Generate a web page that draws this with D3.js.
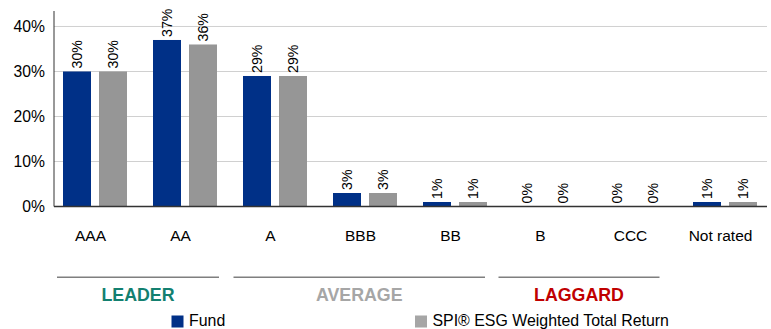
<!DOCTYPE html>
<html>
<head>
<meta charset="utf-8">
<script src="https://cdn.jsdelivr.net/npm/d3@7"></script>
<style>
  html, body { margin: 0; padding: 0; background: #fff; }
  svg { display: block; font-family: "Liberation Sans", Arial, sans-serif; }
</style>
</head>
<body>
<svg id="chart" width="771" height="329"></svg>
<script>
// ESG rating distribution: fund vs. index
const categories = ["AAA", "AA", "A", "BBB", "BB", "B", "CCC", "Not rated"];
const fundValues = [30, 37, 29, 3, 1, 0, 0, 1];
const indexValues = [30, 36, 29, 3, 1, 0, 0, 1];
const seriesNames = ["Fund", "SPI® ESG Weighted Total Return"];
const yTicks = [0, 10, 20, 30, 40];
const groupNames = ["LEADER", "AVERAGE", "LAGGARD"];
const groupFirst = ["AAA", "A", "B"];
const groupLast = ["AA", "BB", "CCC"];

const colors = { fund: "#003087", index: "#969696" };
const groupColors = ["#138070", "#A6A6A6", "#C00000"];
// small trims applied to each group's underline (left, right)
const groupTrim = [[11.5, 6.5], [8, 10.5], [3, 16]];

const svg = d3.select("#chart");

const plot = { left: 54, right: 767, top: 11, bottom: 206.5 };

const x = d3.scaleBand().domain(categories).range([45.5, 765.5]).padding(0);
const inner = d3.scaleBand().domain(["fund", "index"]).range([0, 64]).paddingInner(8 / 36).paddingOuter(0);
const pairOffset = (x.bandwidth() - 64) / 2 + 4.5;

const y = d3.scaleLinear().domain([0, 43.44]).range([plot.bottom, plot.top]);

// gridlines
svg.append("g")
  .selectAll("line")
  .data(yTicks.filter(t => t > 0))
  .join("line")
  .attr("x1", plot.left).attr("x2", plot.right)
  .attr("y1", d => y(d)).attr("y2", d => y(d))
  .attr("stroke", "#d0d0d0").attr("stroke-width", 1);

// y axis
const yAxis = d3.axisLeft(y).tickValues(yTicks).tickFormat(d => d + "%").tickSize(0).tickPadding(9);
const yg = svg.append("g").attr("transform", `translate(${plot.left},0)`).call(yAxis);
yg.select(".domain").remove();
yg.selectAll("text").attr("font-size", "15.7px").attr("fill", "#000")
  .attr("font-family", "Liberation Sans, Arial, sans-serif");

// bars
const rows = categories.map((c, i) => ({ c, fund: fundValues[i], index: indexValues[i] }));
const barG = svg.append("g");
rows.forEach(r => {
  ["fund", "index"].forEach(k => {
    const bx = x(r.c) + pairOffset + inner(k);
    const v = r[k];
    if (v > 0) {
      barG.append("rect")
        .attr("x", bx).attr("width", inner.bandwidth())
        .attr("y", y(v)).attr("height", y(0) - y(v))
        .attr("fill", colors[k]);
    }
    const cx = bx + inner.bandwidth() / 2;
    barG.append("text")
      .attr("transform", `translate(${cx},${y(v) - 3}) rotate(-90)`)
      .attr("dy", "0.33em")
      .attr("font-size", "14.2px")
      .attr("fill", "#000")
      .text(v + "%");
  });
});

// axis lines
svg.append("line")
  .attr("x1", plot.left).attr("x2", plot.left)
  .attr("y1", plot.top).attr("y2", y(0))
  .attr("stroke", "#333").attr("stroke-width", 1);
svg.append("line")
  .attr("x1", plot.left).attr("x2", plot.right)
  .attr("y1", y(0)).attr("y2", y(0))
  .attr("stroke", "#333").attr("stroke-width", 1.5);

// category labels
const xAxis = d3.axisBottom(x).tickSize(0).tickPadding(0);
const xg = svg.append("g").attr("transform", `translate(0,${y(0)})`).call(xAxis);
xg.select(".domain").remove();
xg.selectAll("text")
  .attr("y", 34).attr("dy", 0)
  .attr("font-size", "15.5px").attr("fill", "#000")
  .attr("font-family", "Liberation Sans, Arial, sans-serif");

// group underlines and titles
groupNames.forEach((g, i) => {
  const x1 = x(groupFirst[i]) + groupTrim[i][0];
  const x2 = x(groupLast[i]) + x.bandwidth() - groupTrim[i][1];
  svg.append("line")
    .attr("x1", x1).attr("x2", x2)
    .attr("y1", 277.3).attr("y2", 277.3)
    .attr("stroke", "#7f7f7f").attr("stroke-width", 1.5);
  svg.append("text")
    .attr("x", (x1 + x2) / 2).attr("y", 301)
    .attr("text-anchor", "middle")
    .attr("font-size", "17.8px").attr("font-weight", "bold")
    .attr("fill", groupColors[i])
    .text(g);
});

// legend
const legendX = [171.5, 415];
seriesNames.forEach((name, i) => {
  svg.append("rect")
    .attr("x", legendX[i]).attr("y", 315.5)
    .attr("width", 12).attr("height", 12)
    .attr("fill", i === 0 ? colors.fund : "#A6A6A6");
  svg.append("text")
    .attr("x", legendX[i] + 17.5).attr("y", 326)
    .attr("font-size", "15.9px").attr("fill", "#000")
    .text(name);
});
</script>
</body>
</html>
